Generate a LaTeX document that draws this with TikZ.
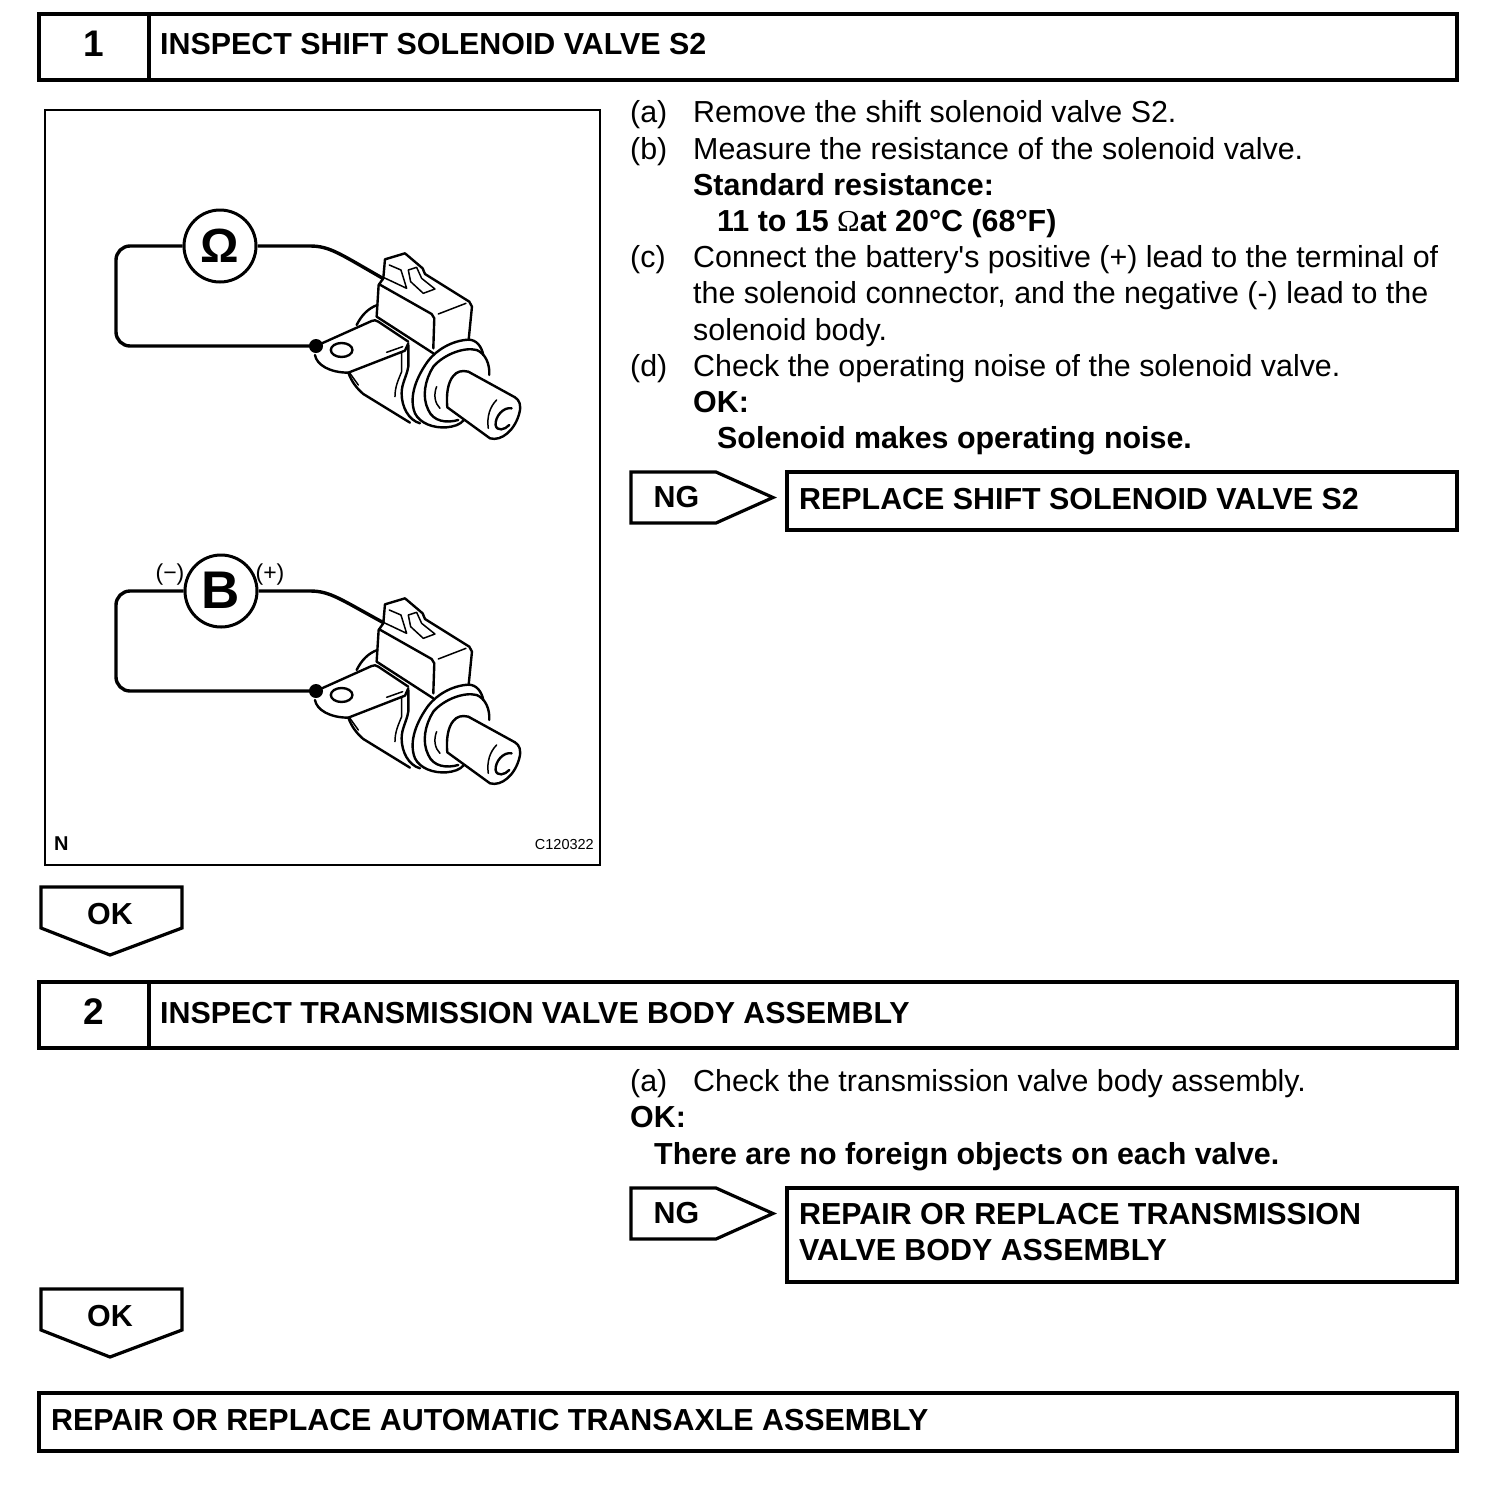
\documentclass[tikz,border=0pt]{standalone}
\usepackage{fontspec}
\setmainfont{Liberation Sans}
\newfontfamily\serfont{Liberation Serif}
\newfontfamily\plainsans{Liberation Sans}
\newcommand{\fsz}[1]{\fontsize{#1}{#1}\selectfont}
\tikzset{
  x=1pt,y=-1pt,
  boxed/.style={draw=black,line width=3.2pt,fill=white,rectangle,inner sep=0pt,outer sep=0pt,anchor=north west},
  txt/.style={anchor=base west,inner sep=0pt,font=\fsz{30.4}},
  btxt/.style={anchor=base west,inner sep=0pt,font=\fsz{30.4}\bfseries},
  tagtxt/.style={anchor=center,inner sep=0pt,font=\fsz{30.4}\bfseries},
  tagshape/.style={draw=black,line width=3.2pt,fill=white,line join=miter},
  wire/.style={line width=3.4pt,line join=round,rounded corners=14pt},
  meter/.style={circle,draw=black,line width=3pt,minimum size=72pt,inner sep=0pt,fill=white},
  dotnode/.style={circle,fill=black,minimum size=14pt,inner sep=0pt},
  thickl/.style={line width=2.4pt,line join=round,line cap=round},
  thinl/.style={line width=1.5pt,line join=round,line cap=round},
}
\newcommand{\solenoid}[2]{%
\begin{scope}[shift={(#1,#2)},x=0.3333pt,y=-0.3333pt]
 % plug tab and top of connector
 \draw[thickl] (850,265) -- (855,208) -- (915,190) -- (968,235) -- (975,252) -- (1108,335) -- (1116,350) -- (1106,450);
 \draw[thinl] (868,225) -- (903,240) -- (920,295) -- (850,262);
 \draw[thinl] (925,240) -- (950,232) -- (965,265) -- (1005,297) -- (970,310) -- (932,275) -- cycle;
 % connector box
 \draw[thickl] (850,265) -- (836,285) -- (830,380) -- (1000,490);
 \draw[thickl] (838,283) -- (995,372) -- (1003,385) -- (1000,475);
 \draw[thinl] (1015,372) -- (1098,340);
 % rear of body
 \draw[thickl] (770,405) .. controls (785,375) and (805,355) .. (832,345);
 % bracket
 \draw[thickl] (648,468) -- (815,393) .. controls (822,390) and (828,390) .. (835,395) -- (925,455);
 \draw[thickl] (645,495) .. controls (650,525) and (690,548) .. (745,548) -- (915,482) -- (925,460);
 \draw[thinl] (860,487) -- (908,470);
 \draw[thickl] (725,480) ellipse [x radius=10.8pt,y radius=7pt];
 % lower body
 \draw[thickl] (745,548) .. controls (755,575) and (770,595) .. (790,612) -- (930,698);
 \draw[thinl] (750,550) -- (775,585);
 \draw[thickl] (925,465) -- (925,530) .. controls (920,560) and (905,580) .. (905,610) .. controls (905,650) and (925,690) .. (960,700);
 \draw[thinl] (905,490) -- (905,545) .. controls (895,570) and (885,590) .. (885,620);
 % flanges
 \draw[thickl] (985,512) .. controls (1010,480) and (1055,452) .. (1105,449) .. controls (1130,449) and (1145,470) .. (1150,495);
 \draw[thickl] (985,512) .. controls (950,560) and (925,620) .. (945,670) .. controls (960,700) and (1000,715) .. (1040,712) .. controls (1060,710) and (1080,705) .. (1092,690);
 \draw[thickl] (1000,530) .. controls (975,570) and (965,620) .. (985,660) .. controls (1000,695) and (1040,700) .. (1075,690);
 \draw[thickl] (1000,530) .. controls (1030,495) and (1090,470) .. (1130,480) .. controls (1155,490) and (1170,520) .. (1168,555);
 \draw[thinl] (1010,590) .. controls (1000,615) and (1005,640) .. (1020,655);
 % shaft
 \draw[thickl] (1060,558) .. controls (1045,575) and (1038,610) .. (1042,652) -- (1170,745) .. controls (1205,755) and (1245,720) .. (1258,670) .. controls (1265,645) and (1258,630) .. (1245,622) -- (1105,545) .. controls (1085,540) and (1070,545) .. (1060,558);
 \draw[thickl] (1235,655) .. controls (1210,650) and (1185,680) .. (1187,705) .. controls (1190,725) and (1215,720) .. (1228,705);
 \draw[thinl] (1190,630) .. controls (1170,650) and (1160,680) .. (1165,715);
\end{scope}}
\begin{document}
\begin{tikzpicture}
\useasboundingbox (0,0) rectangle (1504,1494);
\fill[white] (0,0) rectangle (1504,1494);

% header 1
\node[boxed,minimum width=110pt,minimum height=66pt] (num1) at (39,14) {};
\node[boxed,minimum width=1308pt,minimum height=66pt] (head1) at (149,14) {};
\node[tagtxt,font=\fsz{37}\bfseries] (n1) at (94,43.5) {1};
\node[btxt] (t1) at (160,54.5) {INSPECT SHIFT SOLENOID VALVE S2};

% figure
\node[draw=black,line width=2.2pt,rectangle,inner sep=0pt,outer sep=0pt,anchor=north west,minimum width=555pt,minimum height=755pt] (fig) at (45,110) {};
\solenoid{100}{190}
\solenoid{100}{535}
\node[meter] (ohm) at (220,246) {};
\node[inner sep=0pt,font=\fsz{48}\bfseries] (ohms) at (220,246) {Ω};
\node[dotnode] (dot1) at (316,346) {};
\coordinate (end1) at (384,279);
\draw[wire] (ohm.west) -- (116,246) -- (116,346) -- (dot1.center);
\draw[line width=3.4pt] (ohm.east) -- (310,246) .. controls (330,246) and (340,254) .. (end1);
\node[meter] (bat) at (221,591) {};
\node[inner sep=0pt,font=\fsz{53}\bfseries] (bats) at (221,590) {B};
\node[dotnode] (dot2) at (316,691) {};
\coordinate (end2) at (384,623);
\draw[wire] (bat.west) -- (116,591) -- (116,691) -- (dot2.center);
\draw[line width=3.4pt] (bat.east) -- (310,591) .. controls (330,591) and (340,599) .. (end2);
\node[inner sep=0pt,font=\fsz{23}] (minus) at (170,575) {(−)};
\node[inner sep=0pt,font=\fsz{23}] (plus) at (270,575) {(+)};
\node[anchor=base west,inner sep=0pt,font=\fsz{20}\bfseries] (nn) at (54,850) {N};
\node[anchor=base east,inner sep=0pt,font=\fsz{14.5}] (code) at (594,849) {C120322};

% text block 1
\node[txt] (a1l) at (630,122.5) {(a)};
\node[txt] (a1) at (693,122.5) {Remove the shift solenoid valve S2.};
\node[txt] (b1l) at (630,159) {(b)};
\node[txt] (b1) at (693,159) {Measure the resistance of the solenoid valve.};
\node[btxt] (s1) at (693,195) {Standard resistance:};
\node[btxt] (s2) at (717,231) {11 to 15 {\serfont\mdseries Ω}at 20°C (68°F)};
\node[txt] (c1l) at (630,267.5) {(c)};
\node[txt] (c1) at (693,267.5) {Connect the battery{\plainsans '}s positive (+) lead to the terminal of};
\node[txt] (c2) at (693,303.5) {the solenoid connector, and the negative (-) lead to the};
\node[txt] (c3) at (693,340) {solenoid body.};
\node[txt] (d1l) at (630,376) {(d)};
\node[txt] (d1) at (693,376) {Check the operating noise of the solenoid valve.};
\node[btxt] (o1) at (693,412) {OK:};
\node[btxt] (o2) at (717,448.5) {Solenoid makes operating noise.};

% NG 1
\draw[tagshape] (631,472) -- (716,472) -- (773,497.5) -- (716,523) -- (631,523) -- cycle;
\node[tagtxt] (ng1) at (676.5,497) {NG};
\node[boxed,minimum width=670pt,minimum height=58pt] (rep1) at (787,472) {};
\node[btxt] (rep1t) at (799,509) {REPLACE SHIFT SOLENOID VALVE S2};

% OK 1
\draw[tagshape] (41,887) -- (182,887) -- (182,928) -- (110,955) -- (41,928) -- cycle;
\node[tagtxt] (ok1) at (110,914) {OK};

% header 2
\node[boxed,minimum width=110pt,minimum height=66pt] (num2) at (39,982) {};
\node[boxed,minimum width=1308pt,minimum height=66pt] (head2) at (149,982) {};
\node[tagtxt,font=\fsz{37}\bfseries] (n2) at (94,1011.5) {2};
\node[btxt] (t2) at (160,1023) {INSPECT TRANSMISSION VALVE BODY ASSEMBLY};

% text block 2
\node[txt] (a2l) at (630,1091) {(a)};
\node[txt] (a2) at (693,1091) {Check the transmission valve body assembly.};
\node[btxt] (o3) at (630,1127) {OK:};
\node[btxt] (o4) at (654,1164) {There are no foreign objects on each valve.};

% NG 2
\draw[tagshape] (631,1188) -- (716,1188) -- (773,1213.5) -- (716,1239) -- (631,1239) -- cycle;
\node[tagtxt] (ng2) at (676.5,1213) {NG};
\node[boxed,minimum width=670pt,minimum height=94pt] (rep2) at (787,1188) {};
\node[btxt] (rep2a) at (799,1224) {REPAIR OR REPLACE TRANSMISSION};
\node[btxt] (rep2b) at (799,1260) {VALVE BODY ASSEMBLY};

% OK 2
\draw[tagshape] (41,1289) -- (182,1289) -- (182,1330) -- (110,1357) -- (41,1330) -- cycle;
\node[tagtxt] (ok2) at (110,1316) {OK};

% final
\node[boxed,minimum width=1418pt,minimum height=58pt] (final) at (39,1393) {};
\node[btxt] (finalt) at (51,1430) {REPAIR OR REPLACE AUTOMATIC TRANSAXLE ASSEMBLY};
\end{tikzpicture}
\end{document}
